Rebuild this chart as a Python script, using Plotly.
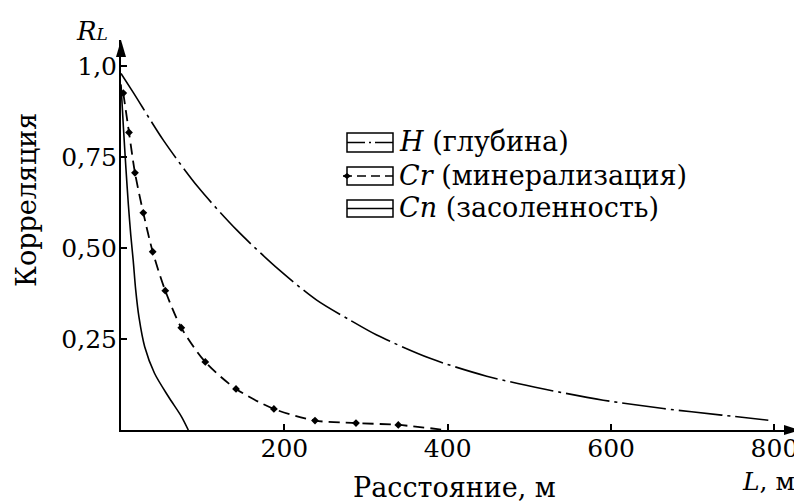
import plotly.graph_objects as go

# ---- data ----
h_x = [0, 15.5, 52.0, 94.6, 141.6, 192.6, 239.6, 280.4, 313.1, 378.3, 447.7, 519.1, 590.5, 663.9, 735.4, 792.5]
h_y = [0.98, 0.926, 0.796, 0.667, 0.550, 0.442, 0.357, 0.302, 0.261, 0.197, 0.148, 0.112, 0.082, 0.059, 0.041, 0.027]

cr_x = [2.8, 9.8, 17.1, 27.3, 38.8, 54.2, 73.8, 103.2, 140.8, 187.2, 237.5, 287.7, 339.5, 396.7]
cr_y = [0.926, 0.818, 0.707, 0.597, 0.490, 0.383, 0.281, 0.187, 0.113, 0.058, 0.026, 0.019, 0.014, 0.0]

cn_x = [0, 3, 6, 9, 12, 15, 18, 22, 29, 41, 58, 74, 82.4]
cn_y = [0.95, 0.83, 0.72, 0.62, 0.535, 0.465, 0.385, 0.31, 0.229, 0.156, 0.092, 0.037, 0.0]

x_tickvals = [200, 400, 600, 800]
x_ticktext = ["200", "400", "600", "800"]
y_tickvals = [0.25, 0.50, 0.75, 1.0]
y_ticktext = ["0,25", "0,50", "0,75", "1,0"]

legend_labels = ["<i>H</i> (глубина)", "<i>Cr</i> (минерализация)", "<i>Cn</i> (засоленность)"]

# ---- layout geometry (page body has an 8px margin) ----
OFF = 8
W, H = 802 - OFF, 504 - OFF
L, R, T, B = 121 - OFF, 2, 40 - OFF, 74
PW, PH = W - L - R, H - T - B
FONT = "DejaVu Serif"

def fx(px):
    return (px - OFF - L) / PW

def fy(py):
    return 1 - (py - OFF - T) / PH

fig = go.Figure()
fig.add_trace(go.Scatter(x=h_x, y=h_y, mode="lines", line=dict(color="black", width=1.6, dash="44px,5px,3px,5px", shape="spline", smoothing=0.8), showlegend=False))
fig.add_trace(go.Scatter(x=cr_x, y=cr_y, mode="lines", line=dict(color="black", width=1.8, dash="11px,6px", shape="spline", smoothing=0.8), showlegend=False))
fig.add_trace(go.Scatter(x=cr_x[:-1], y=cr_y[:-1], mode="markers", marker=dict(symbol="diamond", size=6, color="black"), cliponaxis=False, showlegend=False))
fig.add_trace(go.Scatter(x=cn_x, y=cn_y, mode="lines", line=dict(color="black", width=1.6, shape="spline", smoothing=0.8), showlegend=False))

shapes = []
shapes.append(dict(type="path", xref="paper", yref="paper", xsizemode="pixel", ysizemode="pixel",
                   xanchor=1, yanchor=0, path="M 0 0 L -16 5 L -16 -5 Z", fillcolor="black", line=dict(width=0)))
shapes.append(dict(type="path", xref="paper", yref="paper", xsizemode="pixel", ysizemode="pixel",
                   xanchor=0, yanchor=1, path="M 0 0 L -5 -17 L 5 -17 Z", fillcolor="black", line=dict(width=0)))

rows = [(133, 152), (167, 185), (200, 217)]
dashes = ["18px,4px,2px,4px", "9px,5px", "solid"]
bx0, bx1 = 347, 393
for (y0, y1), d in zip(rows, dashes):
    shapes.append(dict(type="rect", xref="paper", yref="paper", x0=fx(bx0), x1=fx(bx1), y0=fy(y1), y1=fy(y0),
                       line=dict(color="black", width=1.5), fillcolor="rgba(0,0,0,0)"))
    ym = (y0 + y1) / 2
    shapes.append(dict(type="line", xref="paper", yref="paper", x0=fx(bx0 - (4 if d == "9px,5px" else 0)), x1=fx(bx1), y0=fy(ym), y1=fy(ym),
                       line=dict(color="black", width=1.5, dash=d)))
shapes.append(dict(type="path", xref="paper", yref="paper", xsizemode="pixel", ysizemode="pixel",
                   xanchor=fx(bx0), yanchor=fy((rows[1][0] + rows[1][1]) / 2), path="M -4 0 L 0 3 L 4 0 L 0 -3 Z",
                   fillcolor="black", line=dict(width=0)))

annotations = []
for (y0, y1), lab in zip(rows, legend_labels):
    annotations.append(dict(text=lab, xref="paper", yref="paper", x=fx(397), y=fy((y0 + y1) / 2 - 1),
                            xanchor="left", yanchor="middle", showarrow=False, font=dict(family=FONT, size=27, color="black")))

annotations.append(dict(text="Расстояние, м", xref="paper", yref="paper", x=fx(454), y=fy(488),
                        xanchor="center", yanchor="middle", showarrow=False, font=dict(family=FONT, size=27, color="black")))
annotations.append(dict(text="<i>L</i>, м", xref="paper", yref="paper", x=fx(768), y=fy(481),
                        xanchor="center", yanchor="middle", showarrow=False, font=dict(family=FONT, size=25, color="black")))
annotations.append(dict(text="Корреляция", xref="paper", yref="paper", x=fx(26), y=fy(200), textangle=-90,
                        xanchor="center", yanchor="middle", showarrow=False, font=dict(family=FONT, size=27, color="black")))
annotations.append(dict(text="<i>R<span style='font-size:17px'>L</span></i>", xref="paper", yref="paper", x=fx(92), y=fy(31),
                        xanchor="center", yanchor="middle", showarrow=False, font=dict(family=FONT, size=26, color="black")))

fig.update_layout(
    width=W, height=H,
    margin=dict(l=L, r=R, t=T, b=B, pad=0, autoexpand=False),
    paper_bgcolor="white", plot_bgcolor="white",
    font=dict(family=FONT, size=25, color="black"),
    xaxis=dict(range=[0, PW / 0.8168], showgrid=False, zeroline=False, showline=True, linecolor="black", linewidth=2,
               ticks="inside", ticklen=6, tickwidth=1.5, tickcolor="black", tickvals=x_tickvals, ticktext=x_ticktext,
               ticklabelstandoff=-5, automargin=False, tickfont=dict(family=FONT, size=25, color="black")),
    yaxis=dict(range=[0, PH / 363.8], showgrid=False, zeroline=False, showline=True, linecolor="black", linewidth=2,
               ticks="inside", ticklen=6, tickwidth=1.5, tickcolor="black", tickvals=y_tickvals, ticktext=y_ticktext,
               ticklabelstandoff=-3, automargin=False, tickfont=dict(family=FONT, size=25, color="black")),
    shapes=shapes, annotations=annotations, showlegend=False,
)

fig.write_html("out.html")
